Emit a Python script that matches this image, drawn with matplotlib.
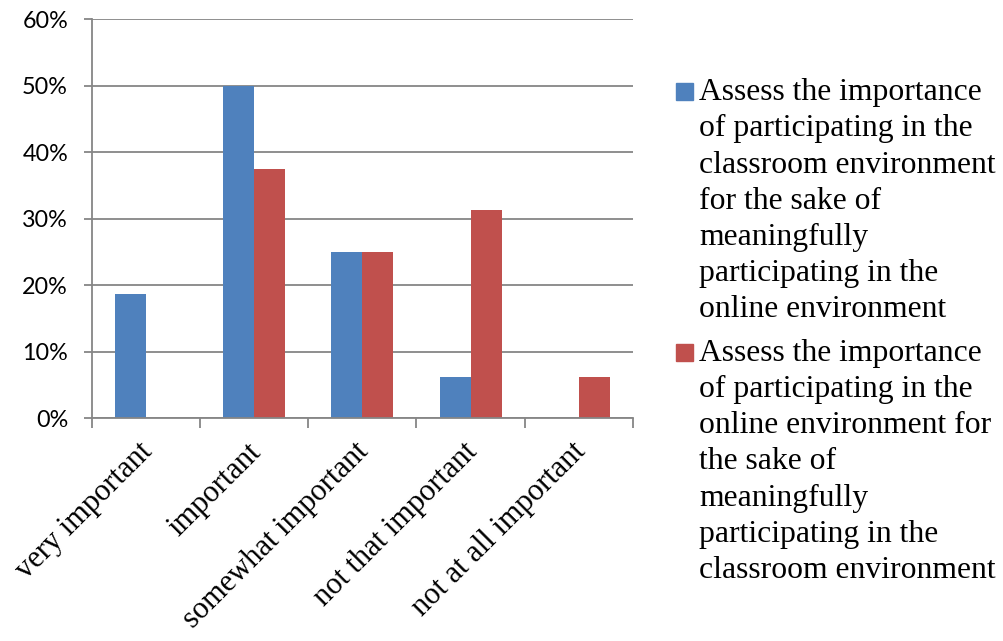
import matplotlib
matplotlib.use("Agg")
import matplotlib.pyplot as plt
import matplotlib.transforms as mtransforms
import numpy as np
from matplotlib.patches import Rectangle

categories = ["very important", "important", "somewhat important",
              "not that important", "not at all important"]
classroom_for_online = [18.75, 50.0, 25.0, 6.25, 0.0]
online_for_classroom = [0.0, 37.5, 25.0, 31.25, 6.25]
series_labels = [
    "Assess the importance\nof participating in the\nclassroom environment\nfor the sake of\nmeaningfully\nparticipating in the\nonline environment",
    "Assess the importance\nof participating in the\nonline environment for\nthe sake of\nmeaningfully\nparticipating in the\nclassroom environment",
]
yticks = [0, 10, 20, 30, 40, 50, 60]
ytick_labels = ["0%", "10%", "20%", "30%", "40%", "50%", "60%"]

blue = "#4F81BD"
red = "#C0504D"
grid_c = "#868686"

W, H = 1004, 641
fig = plt.figure(figsize=(W / 100, H / 100), dpi=100)
ax = fig.add_axes([91.7 / W, 1 - 418.3 / H, (633 - 91.7) / W, (418.3 - 19.3) / H])

x = np.arange(len(categories))
bw = 1 / 3.5
ax.bar(x - bw / 2, classroom_for_online, width=bw, color=blue, linewidth=0)
ax.bar(x + bw / 2, online_for_classroom, width=bw, color=red, linewidth=0)

ax.set_xlim(-0.5, len(categories) - 0.5)
ax.set_ylim(0, 60)
ax.set_yticks(yticks)
ax.set_yticklabels(ytick_labels, fontfamily="Lato", fontsize=16.8, color="black")
ax.yaxis.grid(True, color=grid_c, linewidth=1.3)
ax.set_axisbelow(True)
ax.set_xticks(np.arange(len(categories) + 1) - 0.5)
ax.set_xticklabels([])
ax.tick_params(axis="y", length=6, width=1.3, color=grid_c, pad=11)
ax.tick_params(axis="x", length=7, width=1.3, color=grid_c)
for s in ["top", "right"]:
    ax.spines[s].set_visible(False)
for s in ["left", "bottom"]:
    ax.spines[s].set_color(grid_c)
    ax.spines[s].set_linewidth(1.3)

# rotated category labels
for i, lab in enumerate(categories):
    trans = ax.get_xaxis_transform() + mtransforms.ScaledTranslation(-8 / 100, -19 / 100, fig.dpi_scale_trans)
    ax.text(i, 0, lab, transform=trans, rotation=45, rotation_mode="anchor",
            ha="right", va="top", fontfamily="Liberation Serif", fontsize=22)

# legend (manual)
leg_font = 22.8
for lab, col, ytop in [(series_labels[0], blue, 83.3), (series_labels[1], red, 344)]:
    fig.patches.append(Rectangle((676 / W, 1 - (ytop + 17) / H), 17 / W, 17 / H,
                                 transform=fig.transFigure, color=col))
    fig.text(699 / W, 1 - (ytop - 5) / H, lab, ha="left", va="top",
             fontfamily="Liberation Serif", fontsize=leg_font, linespacing=1.325)

fig.savefig("out.png", dpi=100)
